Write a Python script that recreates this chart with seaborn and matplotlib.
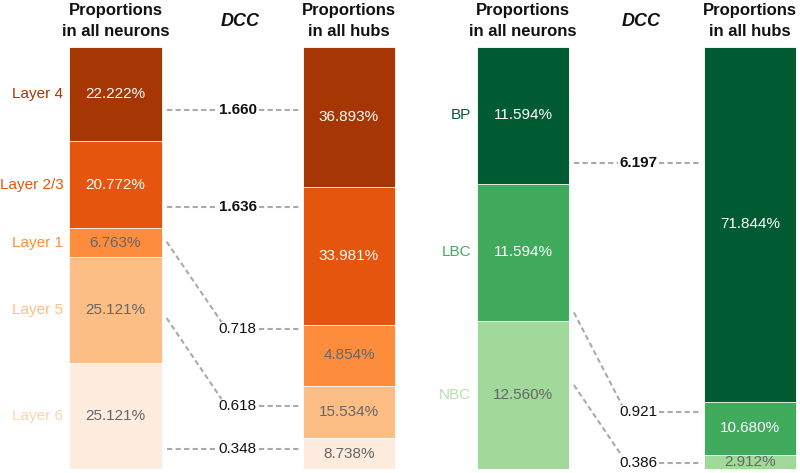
import matplotlib

matplotlib.use('Agg')
import matplotlib.pyplot as plt
import seaborn as sns
import numpy as np
import pandas as pd

sns.set_theme(style="white")
plt.rcParams['font.family'] = ['Liberation Sans', 'DejaVu Sans']

# ==========================================
# data
# ==========================================
layers = ["Layer 4", "Layer 2/3", "Layer 1", "Layer 5", "Layer 6"]
layer_neuron_pct = [22.222, 20.772, 6.763, 25.121, 25.121]
layer_hub_pct = [36.893, 33.981, 4.854, 15.534, 8.738]
# the hub bar of the layer panel is not drawn to scale in the original: segment heights
layer_hub_drawn = [33.2, 32.6, 14.5, 12.4, 7.3]
layer_dcc = [1.660, 1.636, 0.718, 0.618, 0.348]

types = ["BP", "LBC", "NBC"]
type_neuron_pct = [11.594, 11.594, 12.560]
type_hub_pct = [71.844, 10.680, 2.912]
type_dcc = [6.197, 0.921, 0.386]

# ==========================================
# style / layout
# ==========================================
layer_colors = ["#a63603", "#e6550d", "#fd8d3c", "#fdbe85", "#feedde"]
layer_label_colors = ["#a63603", "#e6550d", "#fd8d3c", "#fdbe85", "#fdd3ae"]
layer_text_colors = ["white", "white", "#666666", "#666666", "#666666"]
type_colors = ["#005a32", "#41ab5d", "#a1d99b"]
type_label_colors = ["#005a32", "#41ab5d", "#b3e1ad"]
type_text_colors = ["white", "white", "#666666"]

W, H = 800, 473
BAR_TOP, BAR_BOT = 47, 469   # pixel rows of the bars

GRAY = "#aaaaaa"
DASH = (0, (2.5, 1.6))


def py(px):
    # pixel row (from top) -> data y of the bar axes
    return (BAR_BOT - px) / (BAR_BOT - BAR_TOP) * 100


def draw_panel(ax, names, neuron_pct, hub_pct, hub_drawn, dcc, colors, label_colors, text_colors,
               c0, unit, width, dcc_x_px, dcc_y_px, dcc_start_px, title_dcc_px):
    neuron_share = np.array(neuron_pct) / sum(neuron_pct) * 100
    hub_share = np.array(hub_drawn) / sum(hub_drawn) * 100

    rows = []
    for col, share in [("neurons", neuron_share), ("hubs", hub_share)]:
        tops = 100 - np.concatenate([[0], np.cumsum(share)[:-1]])
        for n, t in zip(names, tops):
            rows.append({"col": col, "name": n, "top": t})
    df = pd.DataFrame(rows)

    # overlapping cumulative bars -> stacked look
    sns.barplot(data=df, x="col", y="top", hue="name", order=["neurons", "dcc", "hubs"],
                hue_order=names, palette=colors, saturation=1, dodge=False, width=width,
                errorbar=None, edgecolor="white", linewidth=0.6, legend=False, ax=ax)
    ax.set_xlim(-0.5, (W - (c0 - 0.5 * unit)) / unit - 0.5 if c0 > 400 else 2.5)
    ax.set_ylim(0, 100)
    ax.axis("off")

    def px_x(px):
        return (px - c0) / unit

    # percentage labels and category names
    for xpos, share, pct in [(0, neuron_share, neuron_pct), (2, hub_share, hub_pct)]:
        tops = 100 - np.concatenate([[0], np.cumsum(share)[:-1]])
        for i, (t, s, v) in enumerate(zip(tops, share, pct)):
            ax.text(xpos, t - s / 2, f"{v:.3f}%", ha="center", va="center",
                    color=text_colors[i], fontsize=11)
            if xpos == 0:
                ax.text(-width / 2 - 6 / unit, t - s / 2, names[i], ha="right", va="center",
                        color=label_colors[i], fontsize=11)

    # DCC values with dashed connectors
    bar_r = width / 2 + 5 / unit
    hub_l = 2 - width / 2 - 2 / unit
    lab_r = px_x(dcc_x_px)
    lab_l = lab_r - 38 / unit
    for d, ly, sy in zip(dcc, dcc_y_px, dcc_start_px):
        bold = d > 1
        ax.text(lab_r, py(ly), f"{d:.3f}", ha="right", va="center", fontsize=11,
                fontweight="bold" if bold else "normal", color="#111111")
        if sy is None:
            ax.plot([bar_r, lab_l - 1 / unit], [py(ly), py(ly)], ls=DASH, color=GRAY,
                    lw=1.5, clip_on=False)
        else:
            ax.plot([bar_r, lab_l + 3 / unit], [py(sy), py(ly - 7)], ls=DASH, color=GRAY,
                    lw=1.5, clip_on=False)
        ax.plot([lab_r + 2 / unit, hub_l], [py(ly), py(ly)], ls=DASH, color=GRAY,
                lw=1.5, clip_on=False)

    # column titles
    for xpos, title in [(0, "Proportions\nin all neurons"), (2, "Proportions\nin all hubs")]:
        ax.text(xpos, py(21), title, ha="center", va="center", fontsize=12,
                fontweight="bold", color="#111111", linespacing=1.55)
    ax.text(px_x(title_dcc_px), py(22), "DCC", ha="center", va="center", fontsize=13,
            fontweight="bold", fontstyle="italic", color="#111111")


fig = plt.figure(figsize=(W / 100, H / 100), dpi=100)

# left panel: cortical layers
c0_l, unit_l = 115.5, 116.75
ax1 = fig.add_axes([(c0_l - 0.5 * unit_l) / W, (H - BAR_BOT) / H, 3 * unit_l / W, (BAR_BOT - BAR_TOP) / H])
draw_panel(ax1, layers, layer_neuron_pct, layer_hub_pct, layer_hub_drawn, layer_dcc,
           layer_colors, layer_label_colors, layer_text_colors,
           c0_l, unit_l, 0.79, 256.5, [110, 207, 329, 406, 449], [None, None, 241.7, 318, None], 240)

# right panel: cell types
c0_r, unit_r = 522.9, 113.55
ax2 = fig.add_axes([(c0_r - 0.5 * unit_r) / W, (H - BAR_BOT) / H, (W - (c0_r - 0.5 * unit_r)) / W,
                    (BAR_BOT - BAR_TOP) / H])
draw_panel(ax2, types, type_neuron_pct, type_hub_pct, type_hub_pct, type_dcc,
           type_colors, type_label_colors, type_text_colors,
           c0_r, unit_r, 0.81, 657, [163, 412, 463], [None, 312.5, 385], 640.8)

fig.savefig("out.png", dpi=100)
plt.close(fig)
